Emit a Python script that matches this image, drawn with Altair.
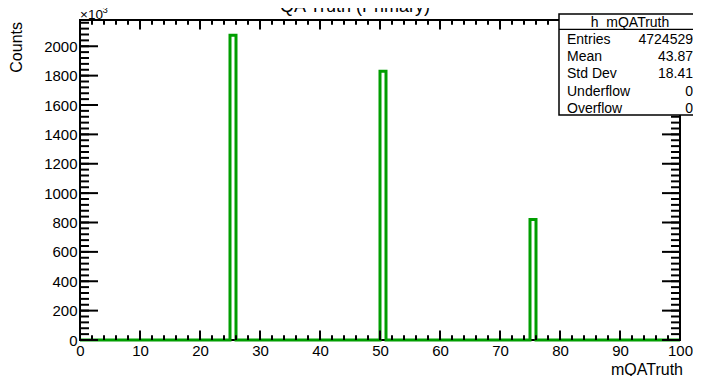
import altair as alt
import pandas as pd

FONT = "Liberation Sans"

# ---- text ----
title_text = "QA Truth (Primary)"
x_title = "mQATruth"
y_title = "Counts"
exp_base = "\u00d710"
exp_power = "3"
hist_name = "h_mQATruth"
stat_names = ["Entries", "Mean", "Std Dev", "Underflow", "Overflow"]
stat_values = ["4724529", "43.87", "18.41", "0", "0"]

# ---- histogram data (100 bins from 0 to 100, counts in units of 10^3) ----
n_bins = 100
x_lo, x_hi = 0, 100
peak_bins = [25, 50, 75]          # lower edge of the filled bins
peak_counts = [2075, 1830, 820]   # x10^3
y_top = 2178.75                   # 1.05 * max

# ---- axis ticks ----
x_major = [0, 10, 20, 30, 40, 50, 60, 70, 80, 90, 100]
x_minor = list(range(0, 101, 2))
y_major = [0, 200, 400, 600, 800, 1000, 1200, 1400, 1600, 1800, 2000]
y_minor = list(range(0, 2161, 40))

W, H = 600, 320
GREEN = "#009e00"

counts = [0.0] * n_bins
for b, c in zip(peak_bins, peak_counts):
    counts[b] = c
edges = list(range(x_lo, x_hi + 1))
hist_df = pd.DataFrame({"v": edges, "y": counts + [counts[-1]]})

xs = alt.Scale(domain=[x_lo, x_hi], nice=False, zero=False)
ys = alt.Scale(domain=[0, y_top], nice=False)

x_axis = alt.Axis(
    values=x_major, title=None, ticks=False, domain=False, grid=False,
    labelFont=FONT, labelFontSize=15, labelColor="black", labelPadding=3,
    labelAngle=0, labelFlush=False, labelOverlap=False, format="d")
y_axis = alt.Axis(
    values=y_major, title=None, ticks=False, domain=False, grid=False,
    labelFont=FONT, labelFontSize=15, labelColor="black", labelPadding=3,
    labelFlush=False, labelOverlap=False, format="d")

hist = alt.Chart(hist_df).mark_line(
    interpolate="step-after", color=GREEN, strokeWidth=3, clip=False
).encode(
    x=alt.X("v:Q", scale=xs, axis=x_axis),
    y=alt.Y("y:Q", scale=ys, axis=y_axis),
)

def xticks(vals, length, top):
    df = pd.DataFrame({"v": vals})
    y0 = 0 if top else H
    y1 = length if top else H - length
    return alt.Chart(df).mark_rule(color="black", strokeWidth=2).encode(
        x=alt.X("v:Q", scale=xs, axis=x_axis), y=alt.value(y0), y2=alt.value(y1))

def yticks(vals, length, right):
    df = pd.DataFrame({"y": vals})
    x0 = W if right else 0
    x1 = W - length if right else length
    return alt.Chart(df).mark_rule(color="black", strokeWidth=2).encode(
        y=alt.Y("y:Q", scale=ys, axis=y_axis), x=alt.value(x0), x2=alt.value(x1))

ticks = [
    xticks(x_major, 9.6, False), xticks(x_minor, 4.8, False),
    xticks(x_major, 9.6, True), xticks(x_minor, 4.8, True),
    yticks(y_major, 18, False), yticks(y_minor, 9, False),
    yticks(y_major, 18, True), yticks(y_minor, 9, True),
]

one = pd.DataFrame({"a": [0]})

def label(text, x, y, size, align="left", angle=0, baseline="alphabetic"):
    return alt.Chart(one).mark_text(
        text=text, font=FONT, fontSize=size, align=align, baseline=baseline,
        angle=angle, color="black", clip=False
    ).encode(x=alt.value(x), y=alt.value(y))

texts = [
    label(title_text, 275, -8, 18, align="center"),
    label(x_title, 603, 354.5, 16, align="right"),
    label(y_title, -58.5, 2, 16, align="right", angle=270),
    label(exp_base, 0, -1.5, 13.5),
    label(exp_power, 22.5, -7.5, 9.5),
]

# stats box
bx0, bx1, by0, by1 = 479, 620, -6, 95
box = alt.Chart(one).mark_rect(fill="white", stroke="black", strokeWidth=1.5).encode(
    x=alt.value(bx0), x2=alt.value(bx1), y=alt.value(by0), y2=alt.value(by1))
sep = alt.Chart(one).mark_rule(color="black", strokeWidth=1.2).encode(
    x=alt.value(bx0), x2=alt.value(bx1), y=alt.value(9.3))
stats = [box, sep, label(hist_name, 550, 6.5, 14, align="center")]
row_y = [23.8, 41.1, 58.4, 75.7, 93.0]
for name, val, yy in zip(stat_names, stat_values, row_y):
    stats.append(label(name, 487, yy, 14))
    stats.append(label(val, 613, yy, 14, align="right"))

chart = alt.layer(hist, *ticks, *texts, *stats).properties(
    width=W, height=H,
    autosize=alt.AutoSizeParams(type="none"),
    padding={"left": 72, "top": 12, "right": 13, "bottom": 36},
    background="white",
).configure_view(stroke="black", strokeWidth=2)

chart.save("out.html", embed_options={"renderer": "svg", "actions": False})
